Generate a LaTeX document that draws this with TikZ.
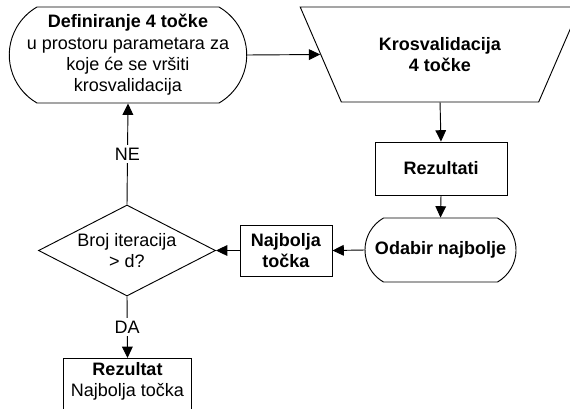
\documentclass[tikz,border=0pt]{standalone}
\usepackage{fontspec}
\setmainfont{Liberation Sans}
\usetikzlibrary{shapes.geometric,shapes.misc,arrows.meta}
\begin{document}
\begin{tikzpicture}[x=0.75pt,y=-0.75pt,
  font=\fontsize{13.5}{16}\selectfont,
  line width=0.7pt,
  arr/.style={-{Triangle[length=8.5pt,width=8pt]}},
  boxnode/.style={draw, rectangle, inner sep=0pt, align=center},
  termnode/.style={draw, rounded rectangle, rounded rectangle arc length=120, inner sep=0pt, align=center},
  lbl/.style={fill=white, inner sep=2pt}]
\useasboundingbox (0,0) rectangle (570,408);
\clip (0,0) rectangle (570,408);
\node[termnode, minimum width=172.5pt, minimum height=72pt] (def) at (128,55)
  {\textbf{Definiranje 4 točke}\\u prostoru parametara za\\koje će se vršiti\\krosvalidacija};
\node[draw, trapezium, shape border rotate=180, trapezium stretches=true,
  trapezium angle=53.6, minimum width=210pt, minimum height=71.25pt, inner sep=0pt, align=center]
  (kros) at (440,54.5) {\textbf{Krosvalidacija}\\\textbf{4 točke}};
\node[boxnode, minimum width=99pt, minimum height=39.75pt] (rez) at (441,168.5) {\textbf{Rezultati}};
\node[termnode, minimum width=113.25pt, minimum height=48pt] (oda) at (440.5,250) {\textbf{Odabir najbolje}};
\node[boxnode, minimum width=69pt, minimum height=38.25pt] (naj) at (286,250.5) {\textbf{Najbolja}\\\textbf{točka}};
\node[draw, diamond, aspect=1.95, minimum width=132.75pt, minimum height=68.25pt, inner sep=0pt, align=center]
  (dia) at (127,250.5) {Broj iteracija\\> d?};
\node[inner xsep=0pt, inner ysep=3pt, anchor=north, minimum width=95.25pt, align=center] (res) at (127.5,358)
  {\textbf{Rezultat}\\Najbolja točka};
\draw (res.north west) -- (res.north east) -- ++(0,80) (res.north west) -- ++(0,80);
\draw[arr] (def.east) -- (kros.west);
\draw[arr] (kros.south) -- (rez.north);
\draw[arr] (rez.south) -- (oda.north);
\draw[arr] (oda.west) -- (naj.east);
\draw[arr] (naj.west) -- (dia.east);
\draw[arr] (dia.north) -- node[lbl] {NE} (def.south);
\draw[arr] (dia.south) -- node[lbl] {DA} (res.north);
\end{tikzpicture}
\end{document}
